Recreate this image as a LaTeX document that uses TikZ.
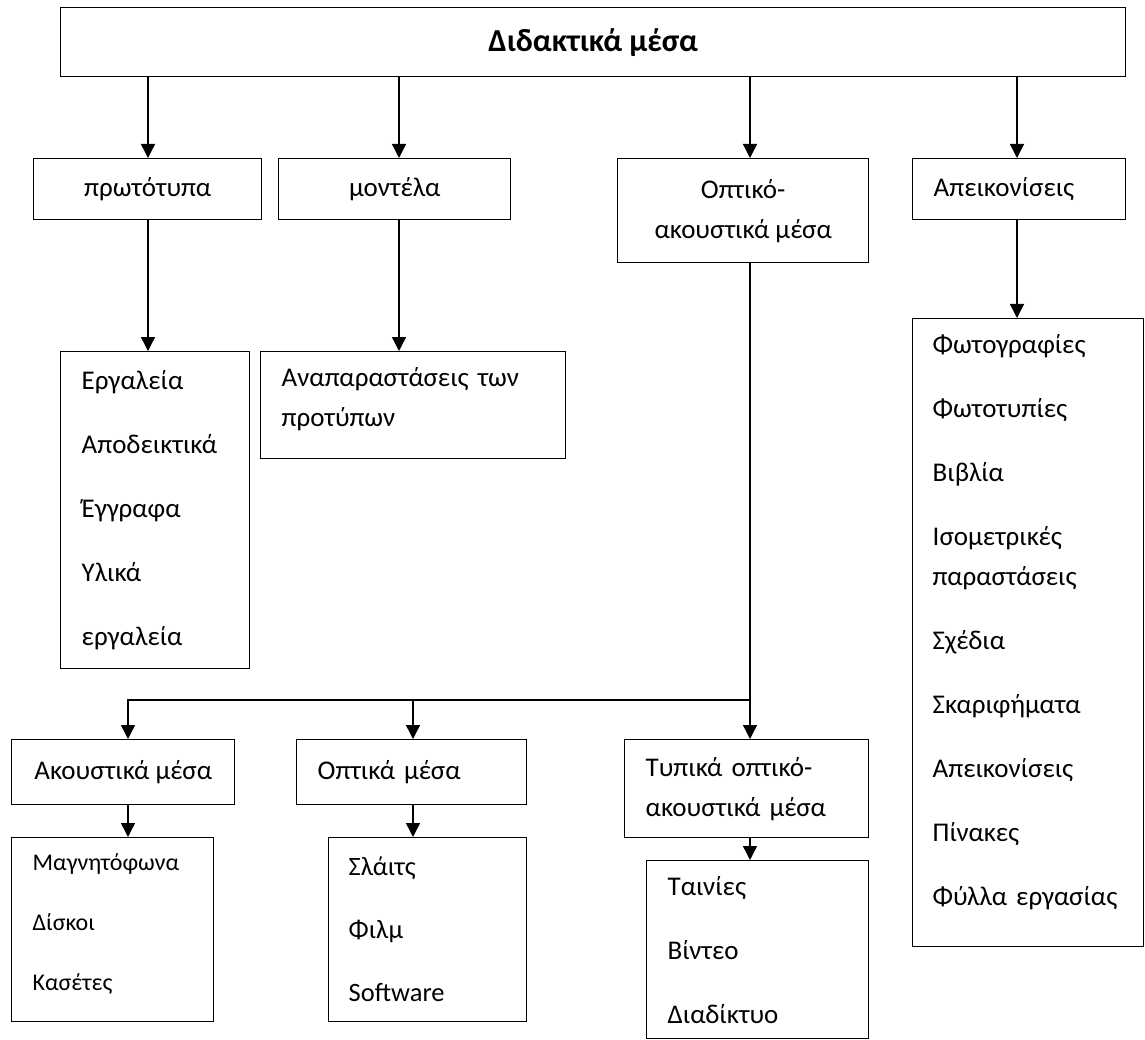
\documentclass[tikz,border=0pt]{standalone}
\usepackage{fontspec}
\setmainfont{Carlito}
\usetikzlibrary{arrows.meta}

\begin{document}
\begin{tikzpicture}[x=1pt, y=-1pt,
    box/.style={rectangle, draw=black, line width=1.4pt, inner sep=0pt, anchor=north west, text=black},
    titlebox/.style={box, align=center, font=\fontsize{27}{40}\selectfont},
    listbox/.style={box, align=left, inner xsep=21pt, font=\fontsize{27}{40}\selectfont},
    arr/.style={line width=1.4pt, -{Triangle[length=14pt, width=14pt]}},
    link/.style={line width=1.4pt}]
    \useasboundingbox (0,0) rectangle (1145,1040);

    % columns of the arrows
    \coordinate (colproto) at (148,0);
    \coordinate (colmodel) at (399,0);
    \coordinate (colav) at (750,0);
    \coordinate (colpics) at (1017,0);
    \coordinate (colaudio) at (128,0);
    \coordinate (colvisual) at (413,0);
    \coordinate (split) at (750,700);

    \node (media) [titlebox, minimum width=1065pt, minimum height=69pt, font=\bfseries\fontsize{32}{38}\selectfont] at (60,7) {Διδακτικά μέσα};

    \node (proto) [titlebox, minimum width=228pt, minimum height=61pt] at (33,158) {πρωτότυπα};
    \node (model) [titlebox, minimum width=232pt, minimum height=61pt] at (278,158) {μοντέλα};
    \node (av) [titlebox, minimum width=251pt, minimum height=104pt] at (617,158) {Οπτικό-\\ακουστικά μέσα};
    \node (pics) [listbox, text width=171pt, minimum height=61pt] at (912,158) {Απεικονίσεις};

    \node (tools) [listbox, text width=147pt, minimum height=317pt] at (60,351) {
        Εργαλεία\\[24pt] Αποδεικτικά\\[24pt] Έγγραφα\\[24pt] Υλικά\\[24pt] εργαλεία
    };
    \node (repr) [listbox, text width=263pt, minimum height=107pt, text depth=57pt] at (260,351) {Αναπαραστάσεις των\\προτύπων};
    \node (picslist) [listbox, inner xsep=20pt, text width=191pt, minimum height=628pt, text depth=577pt] at (912,318) {
        Φωτογραφίες\\[24pt] Φωτοτυπίες\\[24pt] Βιβλία\\[24pt] Ισομετρικές\\ παραστάσεις\\[24pt]
        Σχέδια\\[24pt] Σκαριφήματα\\[24pt] Απεικονίσεις\\[24pt] Πίνακες\\[24pt] \mbox{Φύλλα εργασίας}
    };

    \node (audio) [titlebox, minimum width=223pt, minimum height=65pt] at (11,739) {Ακουστικά μέσα};
    \node (visual) [listbox, text width=188pt, minimum height=65pt] at (296,739) {Οπτικά μέσα};
    \node (typical) [listbox, text width=202pt, minimum height=98pt] at (624,739) {Τυπικά οπτικό-\\ακουστικά μέσα};

    \node (audiolist) [listbox, text width=160pt, minimum height=184pt, text depth=136pt, font=\fontsize{24}{36}\selectfont] at (11,837) {
        Μαγνητόφωνα\\[24pt] Δίσκοι\\[24pt] Κασέτες
    };
    \node (visuallist) [listbox, inner xsep=20pt, text width=158pt, minimum height=184pt, font=\fontsize{26.5}{40}\selectfont] at (328,837) {
        Σλάιτς\\[23pt] Φιλμ\\[23pt] Software
    };
    \node (typicallist) [listbox, text width=180pt, minimum height=178pt] at (646,860) {
        Ταινίες\\[24pt] Βίντεο\\[24pt] Διαδίκτυο
    };

    \draw [arr] (media.south -| colproto) -- (proto.north -| colproto);
    \draw [arr] (media.south -| colmodel) -- (model.north -| colmodel);
    \draw [arr] (media.south -| colav) -- (av.north -| colav);
    \draw [arr] (media.south -| colpics) -- (pics.north -| colpics);

    \draw [arr] (proto.south -| colproto) -- (tools.north -| colproto);
    \draw [arr] (model.south -| colmodel) -- (repr.north -| colmodel);
    \draw [arr] (pics.south -| colpics) -- (picslist.north -| colpics);

    \draw [arr] (av.south -| colav) -- (typical.north -| colav);
    \draw [arr] (split) -| (audio.north -| colaudio);
    \draw [arr] (split -| colvisual) -- (visual.north -| colvisual);

    \draw [arr] (audio.south -| colaudio) -- (audiolist.north -| colaudio);
    \draw [arr] (visual.south -| colvisual) -- (visuallist.north -| colvisual);
    \draw [arr] (typical.south -| colav) -- (typicallist.north -| colav);
\end{tikzpicture}
\end{document}
